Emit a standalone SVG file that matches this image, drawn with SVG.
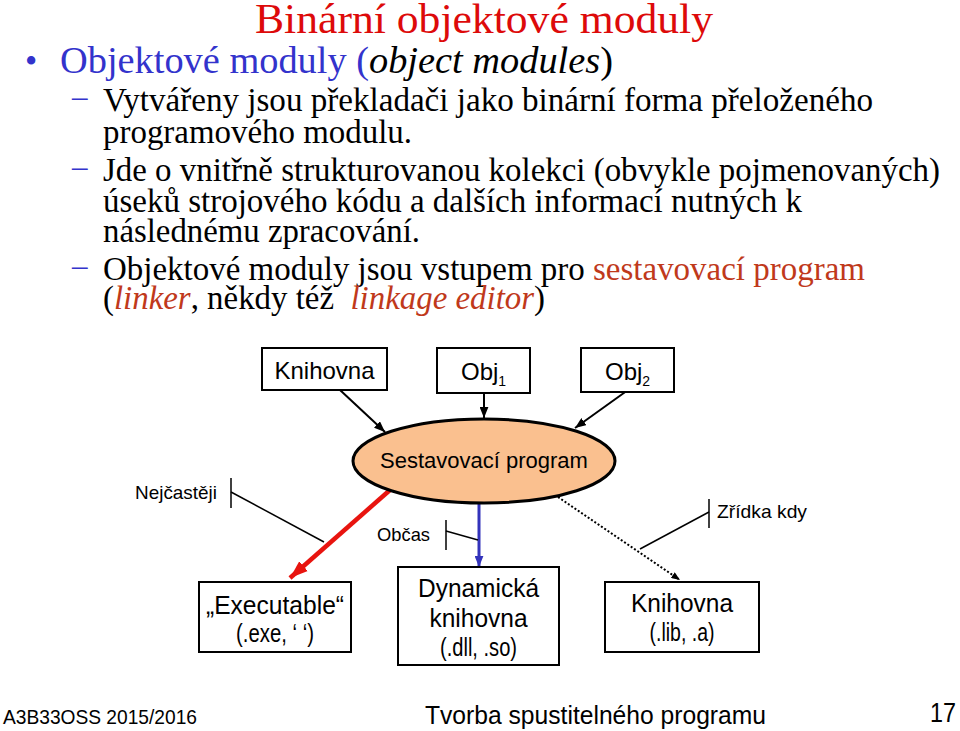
<svg xmlns="http://www.w3.org/2000/svg" width="960" height="731" viewBox="0 0 960 731">
<style>
.serif{font-family:"Liberation Serif","Times New Roman",serif;}
.sans{font-family:"Liberation Sans",Arial,sans-serif;fill:#000;}
.blue{fill:#3333CC;}
.brown{fill:#C0391B;}
.it{font-style:italic;}
.box{fill:#fff;stroke:#000;stroke-width:2;}
.ln{stroke:#000;stroke-width:2;fill:none;}
.br{stroke:#000;stroke-width:1.5;fill:none;}
</style>
<defs>
<marker id="ab" viewBox="0 0 10 8" refX="10" refY="4" markerWidth="11" markerHeight="9" markerUnits="userSpaceOnUse" orient="auto"><path d="M0,0 L10,4 L0,8 z" fill="#000"/></marker>
<marker id="ar" viewBox="0 0 14 10" refX="14" refY="5" markerWidth="18" markerHeight="14" markerUnits="userSpaceOnUse" orient="auto"><path d="M0,0 L14,5 L0,10 z" fill="#E8140F"/></marker>
<marker id="au" viewBox="0 0 10 8" refX="10" refY="4" markerWidth="11" markerHeight="9" markerUnits="userSpaceOnUse" orient="auto"><path d="M0,0 L10,4 L0,8 z" fill="#3333BB"/></marker>
<marker id="ad" viewBox="0 0 10 8" refX="10" refY="4" markerWidth="9" markerHeight="7" markerUnits="userSpaceOnUse" orient="auto"><path d="M0,0 L10,4 L0,8 z" fill="#000"/></marker>
</defs>
<rect width="960" height="731" fill="#fff"/>

<g id="text-body" class="serif">
<text x="255" y="33" font-size="43" fill="#DD0A0A" textLength="458" lengthAdjust="spacingAndGlyphs">Binární objektové moduly</text>
<text x="25" y="73" font-size="35" class="blue">•</text>
<text x="60" y="73" font-size="37" textLength="553" lengthAdjust="spacingAndGlyphs"><tspan class="blue">Objektové moduly (</tspan><tspan class="it">object modules</tspan><tspan>)</tspan></text>
<text x="72" y="107" font-size="31" class="blue">–</text>
<text x="103" y="111" font-size="33" textLength="770" lengthAdjust="spacingAndGlyphs">Vytvářeny jsou překladači jako binární forma přeloženého</text>
<text x="103" y="143" font-size="33" textLength="309" lengthAdjust="spacingAndGlyphs">programového modulu.</text>
<text x="72" y="177" font-size="31" class="blue">–</text>
<text x="103" y="181" font-size="33" textLength="837" lengthAdjust="spacingAndGlyphs">Jde o vnitřně strukturovanou kolekci (obvykle pojmenovaných)</text>
<text x="103" y="212" font-size="33" textLength="699" lengthAdjust="spacingAndGlyphs">úseků strojového kódu a dalších informací nutných k</text>
<text x="103" y="242" font-size="33" textLength="317" lengthAdjust="spacingAndGlyphs">následnému zpracování.</text>
<text x="72" y="276" font-size="31" class="blue">–</text>
<text x="103" y="280" font-size="33" textLength="762" lengthAdjust="spacingAndGlyphs">Objektové moduly jsou vstupem pro <tspan class="brown">sestavovací program</tspan></text>
<text x="103" y="309" font-size="33" textLength="442" lengthAdjust="spacingAndGlyphs" xml:space="preserve">(<tspan class="brown it">linker</tspan>, někdy též  <tspan class="brown it">linkage editor</tspan>)</text>
</g>

<g id="connectors">
<line class="ln" x1="340" y1="390" x2="385" y2="432" marker-end="url(#ab)"/>
<line class="ln" x1="484" y1="393" x2="484" y2="418" marker-end="url(#ab)"/>
<line class="ln" x1="628" y1="390" x2="575" y2="428" marker-end="url(#ab)"/>
<line x1="390" y1="490" x2="290" y2="578" stroke="#E8140F" stroke-width="4.5" marker-end="url(#ar)"/>
<line x1="479" y1="504" x2="479" y2="567" stroke="#3333BB" stroke-width="3" marker-end="url(#au)"/>
<line x1="558" y1="497" x2="680" y2="580" stroke="#000" stroke-width="2" stroke-dasharray="2,2" marker-end="url(#ad)"/>
</g>

<g id="node-knihovna">
<rect class="box" x="262" y="348" width="125" height="42"/>
<text class="sans" x="324.5" y="379" font-size="24" text-anchor="middle">Knihovna</text>
</g>
<g id="node-obj1">
<rect class="box" x="437" y="348" width="93" height="45"/>
<text class="sans" x="461" y="380" font-size="24">Obj<tspan font-size="14" dy="6">1</tspan></text>
</g>
<g id="node-obj2">
<rect class="box" x="581" y="348" width="93" height="44"/>
<text class="sans" x="605" y="380" font-size="24">Obj<tspan font-size="14" dy="6">2</tspan></text>
</g>
<g id="node-linker">
<ellipse cx="484" cy="461" rx="131" ry="42" fill="#FAC08F" stroke="#000" stroke-width="3"/>
<text class="sans" x="484" y="468" font-size="22" text-anchor="middle">Sestavovací program</text>
</g>

<g id="label-nejcasteji">
<text class="sans" x="135" y="499" font-size="19" textLength="82" lengthAdjust="spacingAndGlyphs">Nejčastěji</text>
<line class="br" x1="231" y1="478" x2="231" y2="508"/>
<line class="br" x1="231" y1="492" x2="324" y2="542"/>
</g>
<g id="label-obcas">
<text class="sans" x="377" y="541" font-size="19" textLength="53" lengthAdjust="spacingAndGlyphs">Občas</text>
<line class="br" x1="446" y1="520" x2="446" y2="550"/>
<line class="br" x1="446" y1="531" x2="478" y2="540"/>
</g>
<g id="label-zridka">
<text class="sans" x="717" y="518" font-size="19" textLength="90" lengthAdjust="spacingAndGlyphs">Zřídka kdy</text>
<line class="br" x1="709" y1="499" x2="709" y2="528"/>
<line class="br" x1="709" y1="512" x2="640" y2="549"/>
</g>

<g id="node-executable">
<rect class="box" x="199" y="582" width="152" height="70"/>
<text class="sans" x="275" y="614" font-size="25" text-anchor="middle" textLength="138" lengthAdjust="spacingAndGlyphs">„Executable“</text>
<text class="sans" x="275" y="642" font-size="25" text-anchor="middle" textLength="78" lengthAdjust="spacingAndGlyphs">(.exe, ‘ ‘)</text>
</g>
<g id="node-dynamic">
<rect class="box" x="398" y="567" width="161" height="98"/>
<text class="sans" x="478.5" y="597" font-size="25" text-anchor="middle" textLength="121" lengthAdjust="spacingAndGlyphs">Dynamická</text>
<text class="sans" x="478.5" y="627" font-size="25" text-anchor="middle" textLength="98" lengthAdjust="spacingAndGlyphs">knihovna</text>
<text class="sans" x="478.5" y="656" font-size="25" text-anchor="middle" textLength="77" lengthAdjust="spacingAndGlyphs">(.dll, .so)</text>
</g>
<g id="node-staticlib">
<rect class="box" x="605" y="582" width="154" height="70"/>
<text class="sans" x="682" y="612" font-size="25" text-anchor="middle" textLength="102" lengthAdjust="spacingAndGlyphs">Knihovna</text>
<text class="sans" x="682" y="641" font-size="25" text-anchor="middle" textLength="65" lengthAdjust="spacingAndGlyphs">(.lib, .a)</text>
</g>

<g id="footer">
<text class="sans" x="3" y="724" font-size="21" textLength="194" lengthAdjust="spacingAndGlyphs">A3B33OSS 2015/2016</text>
<text class="sans" x="425" y="724" font-size="25" textLength="341" lengthAdjust="spacingAndGlyphs">Tvorba spustitelného programu</text>
<text class="sans" x="930" y="722" font-size="27" textLength="26" lengthAdjust="spacingAndGlyphs">17</text>
</g>
</svg>
